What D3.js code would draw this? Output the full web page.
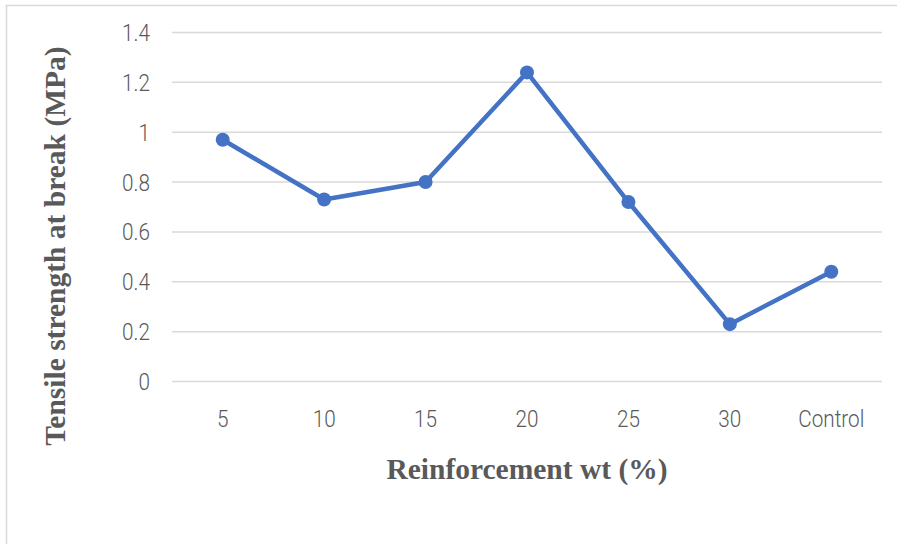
<!DOCTYPE html>
<html><head><meta charset="utf-8">
<script src="https://cdn.jsdelivr.net/npm/d3@7"></script>
<style>body{margin:0;background:#fff}svg{display:block}</style>
</head><body>
<svg id="c" width="897" height="544"></svg>
<script>
const categories = ["5","10","15","20","25","30","Control"];
const values = [0.97, 0.73, 0.80, 1.24, 0.72, 0.23, 0.44];
const yTicks = [0, 0.2, 0.4, 0.6, 0.8, 1, 1.2, 1.4];

const svg = d3.select("#c");
const W = 897, H = 544;
const m = {l:172, r:15, t:32.5, b:162.5};

svg.append("rect").attr("x",6.5).attr("y",5.5).attr("width",W+10).attr("height",H+10)
  .attr("fill","#fff").attr("stroke","#d9d9d9").attr("stroke-width",1.5);

const x = d3.scaleBand().domain(categories).range([m.l, W-m.r]);
const y = d3.scaleLinear().domain([0,1.4]).range([H-m.b, m.t]);

const g = svg.append("g");
g.selectAll("line.grid").data(yTicks).enter().append("line")
  .attr("x1", m.l).attr("x2", W-m.r)
  .attr("y1", d=>y(d)).attr("y2", d=>y(d))
  .attr("stroke","#d9d9d9").attr("stroke-width",1.5);

const tickFont = "Roboto, sans-serif";
const sx = 0.9;
const yAxis = svg.append("g").attr("transform",`translate(${m.l},0)`)
  .call(d3.axisLeft(y).tickValues(yTicks).tickSize(0).tickPadding(22).tickFormat(d=>String(+d.toFixed(1))));
yAxis.select(".domain").remove();
yAxis.selectAll("text").attr("font-family",tickFont).attr("font-size",23).attr("font-weight",300)
  .attr("fill","#595959").attr("x",-22/sx).attr("dy","0.35em").attr("transform",`scale(${sx},1)`);

const xAxis = svg.append("g").attr("transform",`translate(0,${H-m.b})`)
  .call(d3.axisBottom(x).tickSize(0).tickPadding(29));
xAxis.select(".domain").remove();
xAxis.selectAll("text").attr("font-family",tickFont).attr("font-size",23).attr("font-weight",300)
  .attr("fill","#595959").attr("transform",`scale(${sx},1)`);

const line = d3.line().x((d,i)=>x(categories[i])+x.bandwidth()/2).y(d=>y(d));
svg.append("path").datum(values).attr("d",line).attr("fill","none")
  .attr("stroke","#4472C4").attr("stroke-width",4.5).attr("stroke-linejoin","round");
svg.selectAll("circle.pt").data(values).enter().append("circle")
  .attr("cx",(d,i)=>x(categories[i])+x.bandwidth()/2).attr("cy",d=>y(d)).attr("r",7)
  .attr("fill","#4472C4");

svg.append("text").attr("x",527).attr("y",479).attr("text-anchor","middle")
  .attr("font-family","Liberation Serif, serif").attr("font-weight","bold").attr("font-size",29.5)
  .attr("fill","#595959").text("Reinforcement wt (%)");
svg.append("text").attr("transform","translate(65,246) rotate(-90)").attr("text-anchor","middle")
  .attr("font-family","Liberation Serif, serif").attr("font-weight","bold").attr("font-size",29.5)
  .attr("fill","#595959").text("Tensile strength at break (MPa)");
</script>
</body></html>
